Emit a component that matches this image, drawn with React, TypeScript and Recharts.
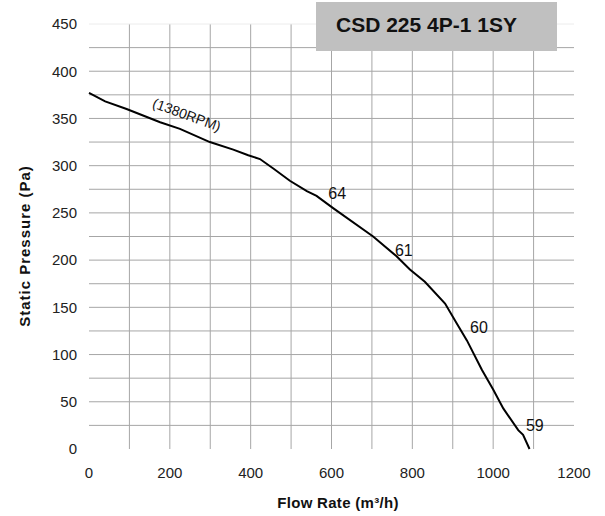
import { CartesianGrid, Line, LineChart, ReferenceDot, ReferenceLine, XAxis, YAxis } from 'recharts'

// fan curve
const flowRate = [0, 40, 93, 176, 225, 299, 357, 394, 423, 456, 497, 539, 563, 604, 703, 761, 794, 831, 881, 910, 935, 972, 1000, 1025, 1062, 1074, 1090]
const staticPressure = [377, 368, 360, 346, 339, 325, 317, 311, 307, 297, 284, 273, 268, 255, 225, 204, 190, 177, 154, 133, 115, 84, 63, 43, 20, 15, 0]

const xTicks = [0, 200, 400, 600, 800, 1000, 1200]
const yTicks = [0, 50, 100, 150, 200, 250, 300, 350, 400, 450]
const gridX = [100, 200, 300, 400, 500, 600, 700, 800, 900, 1000, 1100]
const gridY = [25, 50, 75, 100, 125, 150, 175, 200, 225, 250, 275, 300, 325, 350, 375, 400, 425]

const noiseLabels = ['64', '61', '60', '59']
const noiseX = [614, 779, 965, 1103]
const noiseY = [271, 210, 129, 25]

const rpmLabel = '(1380RPM)'
const rpmX = 242
const rpmY = 354

const title = 'CSD 225 4P-1 1SY'

const data = flowRate.map((q, i) => ({ q, p: staticPressure[i] }))
const FONT = '"Liberation Sans", Arial, sans-serif'

function RotatedLabel(props: any) {
  const { viewBox, value } = props
  const cx = viewBox.x + (viewBox.width ?? 0) / 2
  const cy = viewBox.y + (viewBox.height ?? 0) / 2
  return (
    <text
      x={cx}
      y={cy}
      textAnchor="middle"
      dominantBaseline="central"
      transform={`rotate(20 ${cx} ${cy})`}
      fontSize={14}
      fill="#111"
      fontFamily={FONT}
    >
      {value}
    </text>
  )
}

export default function App() {
  return (
    <div style={{ position: 'absolute', left: 0, top: 0, width: 605, height: 516, background: '#fff', fontFamily: FONT }}>
      <LineChart width={605} height={516} data={data} margin={{ top: 24, right: 31, bottom: 37, left: 29 }}>
        <CartesianGrid stroke="#a6a6a6" horizontalValues={gridY} verticalValues={gridX} />
        <ReferenceLine y={450} stroke="#ececec" />
        <XAxis
          dataKey="q"
          type="number"
          domain={[0, 1200]}
          ticks={xTicks}
          axisLine={false}
          tickLine={false}
          height={30}
          tickMargin={12}
          tick={{ fontSize: 15, fill: '#222', fontFamily: FONT }}
        />
        <YAxis
          type="number"
          domain={[0, 450]}
          ticks={yTicks}
          axisLine={false}
          tickLine={false}
          width={60}
          tickMargin={6}
          tick={{ fontSize: 15, fill: '#222', fontFamily: FONT }}
        />
        <Line
          dataKey="p"
          type="linear"
          stroke="#000"
          strokeWidth={2}
          dot={false}
          isAnimationActive={false}
        />
        {noiseLabels.map((t, i) => (
          <ReferenceDot
            key={t}
            x={noiseX[i]}
            y={noiseY[i]}
            r={0}
            stroke="none"
            fill="none"
            label={{ value: t, position: 'center', fontSize: 16, fill: '#111', fontFamily: FONT }}
          />
        ))}
        <ReferenceDot x={rpmX} y={rpmY} r={0} stroke="none" fill="none" label={<RotatedLabel value={rpmLabel} />} />
      </LineChart>
      <div
        style={{
          position: 'absolute',
          left: 316,
          top: 2,
          width: 241,
          height: 49,
          background: '#c0c0c0',
          boxSizing: 'border-box',
          paddingLeft: 20,
          paddingTop: 11,
          fontWeight: 'bold',
          fontSize: 21,
          lineHeight: '24px',
          color: '#111',
          whiteSpace: 'nowrap',
        }}
      >
        {title}
      </div>
      <div
        style={{
          position: 'absolute',
          left: 0,
          top: 494,
          width: 676,
          textAlign: 'center',
          fontWeight: 'bold',
          fontSize: 15,
          letterSpacing: 0.3,
          color: '#111',
        }}
      >
        Flow Rate (m³/h)
      </div>
      <div
        style={{
          position: 'absolute',
          left: 24,
          top: 246,
          transform: 'translate(-50%, -50%) rotate(-90deg)',
          whiteSpace: 'nowrap',
          fontWeight: 'bold',
          fontSize: 15,
          letterSpacing: 1,
          color: '#111',
        }}
      >
        Static Pressure (Pa)
      </div>
    </div>
  )
}
